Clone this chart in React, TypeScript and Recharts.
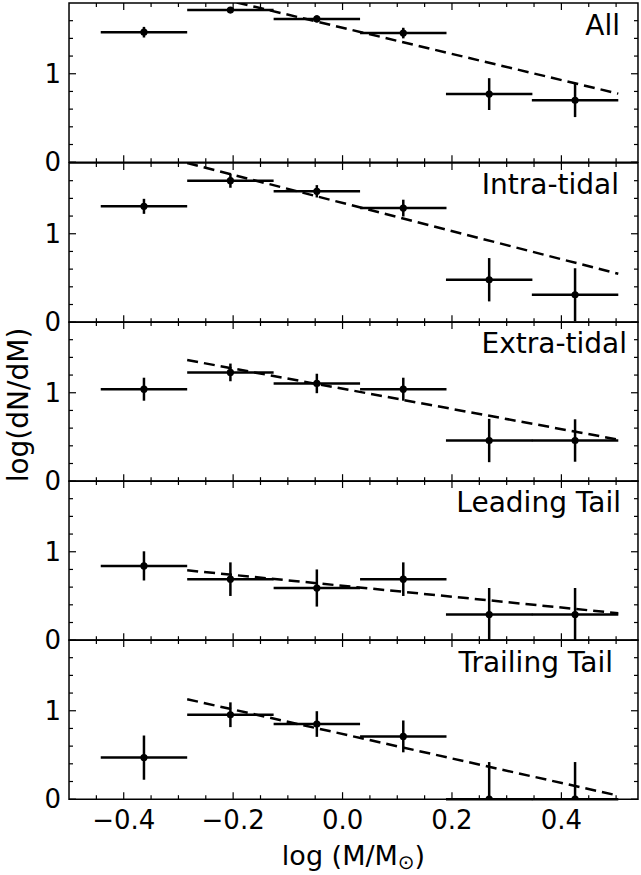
import React from "react";
import { ComposedChart, Scatter, ErrorBar, XAxis, YAxis, ReferenceLine, ReferenceArea } from "recharts";

// bin centres in log(M/Msun) and half bin width
const binCenters = [-0.363, -0.205, -0.047, 0.111, 0.268, 0.425];
const binHalfWidth = 0.079;
const fitX = [-0.284, 0.504];

const allValues = [1.47, 1.72, 1.62, 1.46, 0.77, 0.7];
const allErrors = [0.06, 0.03, 0.04, 0.06, 0.18, 0.19];
const allFit = [1.94, 0.775];

const intraValues = [1.31, 1.6, 1.48, 1.29, 0.48, 0.31];
const intraErrors = [0.085, 0.08, 0.07, 0.095, 0.245, 0.3];
const intraFit = [1.8, 0.547];

const extraValues = [1.04, 1.23, 1.105, 1.04, 0.46, 0.46];
const extraErrors = [0.13, 0.1, 0.11, 0.13, 0.245, 0.24];
const extraFit = [1.37, 0.47];

const leadingValues = [0.84, 0.69, 0.59, 0.69, 0.29, 0.29];
const leadingErrors = [0.165, 0.19, 0.21, 0.19, 0.3, 0.3];
const leadingFit = [0.79, 0.305];

const trailingValues = [0.47, 0.955, 0.85, 0.71, 0, 0];
const trailingErrors = [0.25, 0.14, 0.145, 0.18, 0.42, 0.42];
const trailingFit = [1.13, 0.04];

const panelNames = ["All", "Intra-tidal", "Extra-tidal", "Leading Tail", "Trailing Tail"];
const titleRight = [620, 619, 627, 621, 613];

const xMajor = [-0.4, -0.2, 0, 0.2, 0.4];
const xMinor = [-0.45, -0.35, -0.3, -0.25, -0.15, -0.1, -0.05, 0.05, 0.1, 0.15, 0.25, 0.3, 0.35, 0.45, 0.5];
const yMajor = [0, 1];
const yMinor = [0.2, 0.4, 0.6, 0.8, 1.2, 1.4, 1.6];

const X_DOMAIN: [number, number] = [-0.5, 0.54];
const Y_DOMAIN: [number, number] = [0, 1.8];

const W = 641;
const H = 875;
const PLOT_LEFT = 69;
const PLOT_RIGHT = 638;
const FIRST_TOP = 3.3;
const PH = 159.2;
const MT = 6;
const EXTRA = 45;
const FONT = "DejaVu Sans";

const panels = [
  { values: allValues, errors: allErrors, fit: allFit },
  { values: intraValues, errors: intraErrors, fit: intraFit },
  { values: extraValues, errors: extraErrors, fit: extraFit },
  { values: leadingValues, errors: leadingErrors, fit: leadingFit },
  { values: trailingValues, errors: trailingErrors, fit: trailingFit },
];

const has = (arr: number[], v: number) => arr.some((a) => Math.abs(a - v) < 1e-9);
const fmt = (v: number) => v.toFixed(1).replace("-", "\u2212");

function XTick(props: any) {
  const { x, payload, showLabel } = props;
  const v = payload.value;
  const major = has(xMajor, v);
  const len = major ? 7 : 4;
  const bottom = MT + PH;
  return (
    <g>
      <line x1={x} x2={x} y1={bottom} y2={bottom - len} stroke="#000" strokeWidth={1.2} />
      <line x1={x} x2={x} y1={MT} y2={MT + len} stroke="#000" strokeWidth={1.2} />
      {showLabel && major && (
        <text x={x} y={bottom + 30} textAnchor="middle" fontSize={26} fontFamily={FONT} fill="#000">
          {fmt(v)}
        </text>
      )}
    </g>
  );
}

function YTick(props: any) {
  const { y, payload } = props;
  const v = payload.value;
  const major = has(yMajor, v);
  const len = major ? 7 : 4;
  return (
    <g>
      <line x1={PLOT_LEFT} x2={PLOT_LEFT + len} y1={y} y2={y} stroke="#000" strokeWidth={1.2} />
      <line x1={PLOT_RIGHT} x2={PLOT_RIGHT - len} y1={y} y2={y} stroke="#000" strokeWidth={1.2} />
      {major && (
        <text x={PLOT_LEFT - 8} y={y} textAnchor="end" dominantBaseline="central" fontSize={26} fontFamily={FONT} fill="#000">
          {String(v)}
        </text>
      )}
    </g>
  );
}

const Dot = (p: any) => <circle cx={p.cx} cy={p.cy} r={3.6} fill="#000" />;

function Panel({ index }: { index: number }) {
  const { values, errors, fit } = panels[index];
  const last = index === panels.length - 1;
  const data = binCenters.map((x, i) => ({
    x,
    y: values[i],
    xErr: binHalfWidth,
    yErr: [Math.min(errors[i], values[i]), errors[i]],
  }));
  const top = FIRST_TOP + index * PH - MT;
  return (
    <div style={{ position: "absolute", left: 0, top, width: W, height: MT + PH + EXTRA }}>
      <ComposedChart width={W} height={MT + PH + EXTRA} margin={{ top: MT, right: W - PLOT_RIGHT, bottom: 0, left: 0 }}>
        <XAxis
          type="number"
          dataKey="x"
          domain={X_DOMAIN}
          allowDataOverflow
          ticks={[...xMajor, ...xMinor].sort((a, b) => a - b)}
          interval={0}
          tickLine={false}
          axisLine={false}
          height={EXTRA}
          tick={(p: any) => <XTick {...p} showLabel={last} />}
        />
        <YAxis
          type="number"
          dataKey="y"
          domain={Y_DOMAIN}
          allowDataOverflow
          ticks={[...yMajor, ...yMinor].sort((a, b) => a - b)}
          interval={0}
          tickLine={false}
          axisLine={false}
          width={PLOT_LEFT}
          tick={(p: any) => <YTick {...p} />}
        />
        <ReferenceArea x1={X_DOMAIN[0]} x2={X_DOMAIN[1]} y1={Y_DOMAIN[0]} y2={Y_DOMAIN[1]} fill="none" stroke="#000" strokeWidth={1.5} ifOverflow="visible" />
        <ReferenceLine
          segment={[{ x: fitX[0], y: fit[0] }, { x: fitX[1], y: fit[1] }]}
          stroke="#000"
          strokeWidth={2.5}
          strokeDasharray="11 6"
          ifOverflow="hidden"
        />
        <Scatter data={data} shape={Dot} isAnimationActive={false}>
          <ErrorBar dataKey="xErr" direction="x" width={0} stroke="#000" strokeWidth={2.5} isAnimationActive={false} />
          <ErrorBar dataKey="yErr" direction="y" width={0} stroke="#000" strokeWidth={2.5} isAnimationActive={false} />
        </Scatter>
      </ComposedChart>
    </div>
  );
}

export default function App() {
  return (
    <div style={{ position: "absolute", left: 0, top: 0, width: W, height: H, background: "#fff", fontFamily: FONT }}>
      {panels.map((_, i) => (
        <Panel key={i} index={i} />
      ))}
      <svg width={W} height={H} style={{ position: "absolute", left: 0, top: 0, pointerEvents: "none" }}>
        {panelNames.map((name, i) => (
          <text key={name} x={titleRight[i]} y={FIRST_TOP + i * PH + 31.5} textAnchor="end" fontSize={28} fontFamily={FONT} fill="#000">
            {name}
          </text>
        ))}
        <text transform="translate(28, 405) rotate(-90)" textAnchor="middle" fontSize={28} fontFamily={FONT} fill="#000">
          log(dN/dM)
        </text>
        <text x={(PLOT_LEFT + PLOT_RIGHT) / 2} y={865} textAnchor="middle" fontSize={27} fontFamily={FONT} fill="#000">
          log (M/M<tspan fontSize={20} dy={4}>{"\u2299"}</tspan>
          <tspan dy={-4}>)</tspan>
        </text>
      </svg>
    </div>
  );
}
